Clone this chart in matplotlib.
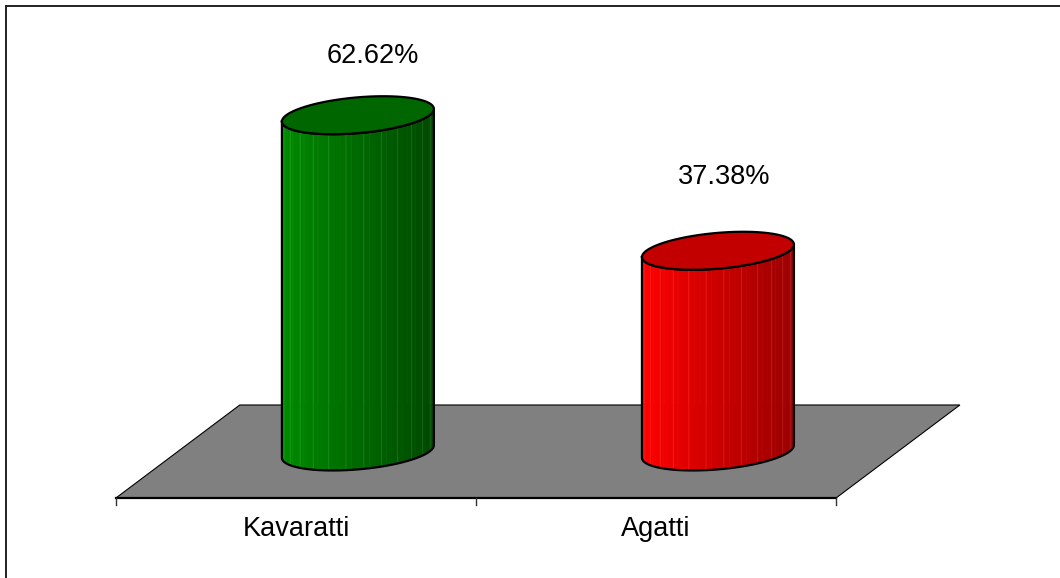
import numpy as np
import matplotlib.pyplot as plt
from matplotlib.patches import Polygon
from matplotlib.colors import to_rgb
from matplotlib.lines import Line2D

categories = ['Kavaratti', 'Agatti']
shares = [62.62, 37.38]
share_labels = ['62.62%', '37.38%']

side_light = ['#008a00', '#ff0000']
side_dark = ['#004800', '#980000']
top_colors = ['#006600', '#c20000']
label_offsets = [(15, 52), (6, 67)]   # pixels from top centre to label baseline

plt.rcParams['font.family'] = ['Liberation Sans', 'DejaVu Sans']

fig = plt.figure(figsize=(10.6, 5.78), dpi=100)
ax = fig.add_axes([0, 0, 1, 1])
ax.set_xlim(-0.994, 1.95)
ax.set_ylim(-23.56, 84.08)
ax.axis('off')

# oblique depth (half of floor depth) in data units
depth = np.array([0.172, 8.66])
n = len(categories)

# floor
mid = [(-0.5, 0.0), (n - 0.5, 0.0)]
floor = [
    (mid[0][0] - depth[0], -depth[1]),
    (mid[1][0] - depth[0], -depth[1]),
    (mid[1][0] + depth[0], depth[1]),
    (mid[0][0] + depth[0], depth[1]),
]
ax.add_patch(Polygon(floor, closed=True, facecolor='#808080',
                     edgecolor='black', lw=0.8, zorder=1))
ax.plot([floor[0][0], floor[1][0]], [floor[0][1], floor[1][1]],
        color='black', lw=1.6, zorder=2)
for b in np.arange(-0.5, n, 1.0):
    x = b - depth[0]
    ax.plot([x, x], [-depth[1], -depth[1] - 1.35], color='#333333',
            lw=1.0, zorder=2)

# cylinder geometry
u = np.array([0.199, 0.0])
v = 0.4086 * depth
t0 = np.arctan2(v[0], u[0])


def ring(cx, cy, t):
    return (cx + u[0] * np.cos(t) + v[0] * np.sin(t),
            cy + u[1] * np.cos(t) + v[1] * np.sin(t))


for i, (cat, val, lab) in enumerate(zip(categories, shares, share_labels)):
    cx = i
    nf = 40
    ts = np.linspace(np.pi + t0, 2 * np.pi + t0, nf + 1)
    xt, yt = ring(cx, val, ts)
    xb, yb = ring(cx, 0.0, ts)
    xl, xr = xt[0], xt[-1]
    c0 = np.array(to_rgb(side_light[i]))
    c1 = np.array(to_rgb(side_dark[i]))
    for k in range(nf):
        f = ((xt[k] + xt[k + 1]) / 2 - xl) / (xr - xl)
        col = c0 * (1 - f) + c1 * f
        edge = np.clip(col + 0.10, 0, 1) if k % 3 == 0 else col
        ax.add_patch(Polygon([(xt[k], yt[k]), (xt[k + 1], yt[k + 1]),
                              (xb[k + 1], yb[k + 1]), (xb[k], yb[k])],
                             closed=True, facecolor=col, edgecolor=edge,
                             lw=0.6, zorder=3))
    # body outline
    ox = np.concatenate([xt, xb[::-1], xt[:1]])
    oy = np.concatenate([yt, yb[::-1], yt[:1]])
    ax.plot(ox, oy, color='black', lw=1.6, zorder=4, solid_joinstyle='round')
    # top cap
    tt = np.linspace(0, 2 * np.pi, 200)
    xc, yc = ring(cx, val, tt)
    ax.add_patch(Polygon(np.column_stack([xc, yc]), closed=True,
                         facecolor=top_colors[i], edgecolor='black',
                         lw=1.6, zorder=5))
    ax.annotate(lab, xy=(cx, val), xytext=label_offsets[i],
                textcoords='offset pixels', ha='center', va='baseline',
                fontsize=19.5, color='black', zorder=6)
    ax.annotate(cat, xy=(cx - depth[0], -depth[1]), xytext=(0, -38),
                textcoords='offset pixels', ha='center', va='baseline',
                fontsize=19.5, color='black', zorder=6)

# chart area border (top and left visible)
fig.add_artist(Line2D([5.5 / 1060, 1.0], [1 - 5.5 / 578, 1 - 5.5 / 578],
                      transform=fig.transFigure, color='#222222', lw=1.4))
fig.add_artist(Line2D([5.5 / 1060, 5.5 / 1060], [0.0, 1 - 5.5 / 578],
                      transform=fig.transFigure, color='#222222', lw=1.4))

fig.savefig('out.png', dpi=100)
